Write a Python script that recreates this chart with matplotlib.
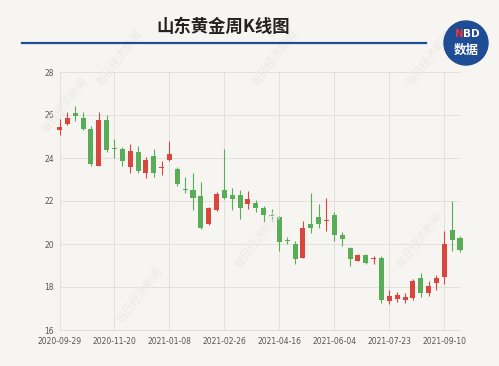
# -*- coding: utf-8 -*-
"""山东黄金周K线图 重绘"""
import matplotlib
matplotlib.use('Agg')
import matplotlib.pyplot as plt
from matplotlib.patches import Ellipse
plt.rcParams['font.family'] = ['Noto Sans CJK SC', 'DejaVu Sans']
plt.rcParams['axes.unicode_minus'] = False

# 周K数据 (从图上读出, 开/收/高/低)
opens = [25.29, 25.56, 26.10, 25.84, 25.36, 23.65, 25.76, 24.45, 24.40, 23.59,
         24.27, 23.31, 24.08, 23.52, 23.90, 23.47, 22.55, 22.49, 22.22, 20.91,
         21.56, 22.49, 22.30, 22.27, 21.88, 21.92, 21.68, 21.31, 21.26, 20.14,
         19.98, 19.36, 20.94, 21.26, 21.07, 21.37, 20.44, 19.82, 19.23, 19.51,
         19.29, 19.36, 17.35, 17.45, 17.40, 17.50, 18.43, 17.70, 18.19, 18.47,
         20.63, 20.26]
closes = [25.43, 25.85, 25.94, 25.37, 23.70, 25.76, 24.36, 24.42, 23.85, 24.32,
          23.39, 23.90, 23.31, 23.55, 24.20, 22.81, 22.52, 22.15, 20.75, 21.68,
          22.33, 22.12, 22.07, 21.68, 22.07, 21.68, 21.37, 21.28, 20.10, 20.12,
          19.31, 20.75, 20.75, 20.95, 21.10, 20.40, 20.24, 19.31, 19.48, 19.13,
          19.32, 17.40, 17.60, 17.65, 17.55, 18.27, 17.70, 18.04, 18.40, 19.98,
          20.18, 19.74]
highs = [25.82, 26.15, 26.41, 26.13, 25.48, 26.16, 26.02, 24.89, 24.52, 24.63,
         24.55, 24.06, 24.40, 23.85, 24.78, 23.59, 23.13, 23.31, 22.87, 21.70,
         22.41, 24.43, 22.61, 22.53, 22.46, 22.04, 21.76, 21.65, 21.29, 20.33,
         20.13, 21.06, 22.35, 21.88, 22.15, 21.48, 20.57, 19.87, 19.52, 19.54,
         19.43, 19.43, 17.88, 17.78, 17.73, 18.35, 18.66, 18.27, 18.58, 20.60,
         21.99, 20.36]
lows = [25.06, 25.53, 25.70, 25.29, 23.62, 23.62, 24.27, 24.01, 23.65, 23.31,
        23.28, 23.08, 23.13, 23.23, 23.85, 22.69, 22.38, 21.57, 20.71, 20.88,
        21.53, 22.10, 21.60, 21.14, 21.64, 21.48, 21.01, 21.06, 19.67, 19.98,
        19.09, 19.33, 20.52, 20.75, 20.60, 20.13, 19.93, 18.97, 19.20, 19.09,
        19.08, 17.25, 17.20, 17.30, 17.25, 17.40, 17.55, 17.60, 17.88, 18.12,
        19.67, 19.62]
tick_labels = ['2020-09-29', '2020-11-20', '2021-01-08', '2021-02-26',
               '2021-04-16', '2021-06-04', '2021-07-23', '2021-09-10']
tick_step = 7  # 每7周一个标签
y_ticks = [16, 18, 20, 22, 24, 26, 28]

BG = '#f7f5f2'; RED = '#d9463e'; GREEN = '#5aad57'; GRID = '#e3dfda'; BLUE = '#1e4d95'
W, H = 499, 366
fig = plt.figure(figsize=(W/100, H/100), dpi=100, facecolor=BG)

# 背景水印 每日经济新闻 (很淡)
for (px, py) in [(120, 58), (275, 58), (430, 58), (65, 105), (258, 240), (420, 240), (140, 295)]:
    fig.text(px/W, 1-py/H, '每日经济新闻', fontsize=8, color='#ece9e4', rotation=52,
             ha='center', va='center', zorder=0)

# 标题 + 蓝线
fig.text(223/W, 1-27/H, '山东黄金周K线图', fontsize=12.5, fontweight='bold', color='#222222',
         ha='center', va='center')
fig.add_artist(plt.Line2D([22/W, 426/W], [1-42.5/H, 1-42.5/H], color=BLUE, lw=1.6))
# NBD 数据 logo
fig.add_artist(Ellipse((466/W, 1-43/H), 44/W, 44/H, transform=fig.transFigure, color=BLUE, zorder=3))
fig.text(459/W, 1-34/H, 'N', fontsize=7.5, fontweight='bold', color='#e8333a', ha='center', va='center', zorder=4, family='DejaVu Sans')
fig.text(471/W, 1-34/H, 'BD', fontsize=7.5, fontweight='bold', color='white', ha='center', va='center', zorder=4, family='DejaVu Sans')
fig.text(466/W, 1-50/H, '数据', fontsize=9, fontweight='bold', color='white', ha='center', va='center', zorder=4, style='italic')

ax = fig.add_axes([59.5/W, 1-330/H, (460-59.5)/W, (330-72)/H])
ax.set_facecolor('none')
x = list(range(len(opens)))
for i in x:
    o, c = opens[i], closes[i]
    col = RED if c >= o else GREEN
    ax.vlines(i, lows[i], highs[i], color=col, lw=0.8, zorder=3, clip_on=False)
    ax.bar(i, max(abs(c-o), 0.05), bottom=min(o, c), width=0.64, color=col, zorder=4, clip_on=False)

ax.set_xlim(0, len(opens)-1)
ax.set_ylim(16, 28)
ax.set_yticks(y_ticks)
ax.set_xticks(x[::tick_step])
ax.set_xticklabels(tick_labels)
ax.tick_params(length=0, labelsize=5.5, colors='#555555')
ax.tick_params(axis='y', pad=4)
ax.tick_params(axis='x', pad=5)
for lab in ax.get_xticklabels() + ax.get_yticklabels():
    lab.set_family('DejaVu Sans')
ax.grid(True, color=GRID, lw=0.7, zorder=0)
for s in ['top', 'right']:
    ax.spines[s].set_visible(False)
for s in ['left', 'bottom']:
    ax.spines[s].set_color(GRID); ax.spines[s].set_linewidth(0.7)

fig.savefig('out.png', dpi=100, facecolor=BG)
